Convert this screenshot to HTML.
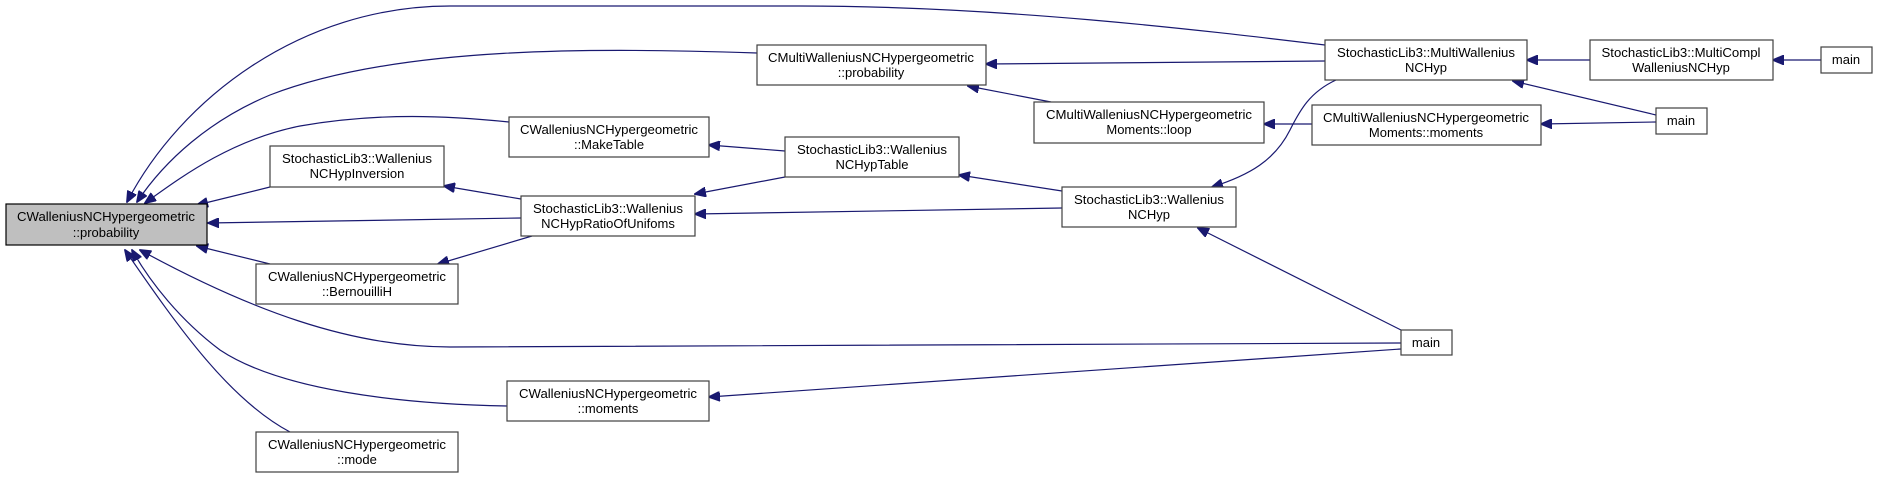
<!DOCTYPE html>
<html><head><meta charset="utf-8"><style>
html,body{margin:0;padding:0;background:#fff;}
svg{display:block;}
text{font-family:"Liberation Sans",sans-serif;font-size:13px;fill:#000;}
.b{fill:#fff;stroke:#404040;stroke-width:1.2;}
.e{fill:none;stroke:#191970;stroke-width:1.2;}
</style></head><body>
<svg width="1877" height="477" viewBox="0 0 1877 477" xmlns="http://www.w3.org/2000/svg">
<defs><marker id="a" markerWidth="12" markerHeight="10" refX="11" refY="5" orient="auto" markerUnits="userSpaceOnUse"><path d="M0,0 L12,5 L0,10 Z" fill="#191970" stroke="#191970"/></marker></defs>
<g class="e" marker-end="url(#a)">
<path d="M1325,45 C1200,30 1000,6 800,6 L450,6 C300,6 180,100 127,202"/>
<path d="M757,53 C600,48 400,45 270,95 C210,120 165,160 137,202"/>
<path d="M509,122 C450,116 380,112 300,126 C230,140 180,178 145,203"/>
<path d="M270,187 L197,205"/>
<path d="M521,218 L208,223"/>
<path d="M270,264 L197,246"/>
<path d="M1401,343 L450,347 C350,347 250,310 140,250"/>
<path d="M507,406 C400,404 280,390 220,350 C180,320 150,282 132,250"/>
<path d="M290,432 C230,400 180,330 125,250"/>
<path d="M521,199 L444,186"/>
<path d="M532,236 L438,264"/>
<path d="M785,151 L709,145"/>
<path d="M785,177 L695,194"/>
<path d="M1062,208 L695,214"/>
<path d="M1062,191 L959,175"/>
<path d="M1325,61 L986,64"/>
<path d="M1051,102 L968,86"/>
<path d="M1312,124 L1264,124"/>
<path d="M1336,80 C1310,92 1300,110 1290,130 C1275,160 1250,175 1212,187"/>
<path d="M1401,330 L1198,228"/>
<path d="M1590,60 L1527,60"/>
<path d="M1821,60 L1773,60"/>
<path d="M1656,115 L1513,81"/>
<path d="M1656,122 L1541,124"/>
<path d="M1401,349 L709,397"/>
</g>
<rect x="6" y="204" width="201" height="41" fill="#bfbfbf" stroke="#000" stroke-width="1.2"/>
<text x="106" y="221" text-anchor="middle" textLength="178" lengthAdjust="spacingAndGlyphs">CWalleniusNCHypergeometric</text>
<text x="106" y="237" text-anchor="middle">::probability</text>

<rect class="b" x="270" y="146" width="174" height="41"/>
<text x="357" y="163" text-anchor="middle" textLength="150" lengthAdjust="spacingAndGlyphs">StochasticLib3::Wallenius</text>
<text x="357" y="178" text-anchor="middle">NCHypInversion</text>

<rect class="b" x="509" y="117" width="200" height="40"/>
<text x="609" y="134" text-anchor="middle" textLength="178" lengthAdjust="spacingAndGlyphs">CWalleniusNCHypergeometric</text>
<text x="609" y="149" text-anchor="middle">::MakeTable</text>

<rect class="b" x="521" y="196" width="174" height="40"/>
<text x="608" y="213" text-anchor="middle" textLength="150" lengthAdjust="spacingAndGlyphs">StochasticLib3::Wallenius</text>
<text x="608" y="228" text-anchor="middle">NCHypRatioOfUnifoms</text>

<rect class="b" x="256" y="264" width="202" height="40"/>
<text x="357" y="281" text-anchor="middle" textLength="178" lengthAdjust="spacingAndGlyphs">CWalleniusNCHypergeometric</text>
<text x="357" y="296" text-anchor="middle">::BernouilliH</text>

<rect class="b" x="507" y="381" width="202" height="40"/>
<text x="608" y="398" text-anchor="middle" textLength="178" lengthAdjust="spacingAndGlyphs">CWalleniusNCHypergeometric</text>
<text x="608" y="413" text-anchor="middle">::moments</text>

<rect class="b" x="256" y="432" width="202" height="40"/>
<text x="357" y="449" text-anchor="middle" textLength="178" lengthAdjust="spacingAndGlyphs">CWalleniusNCHypergeometric</text>
<text x="357" y="464" text-anchor="middle">::mode</text>

<rect class="b" x="757" y="45" width="229" height="40"/>
<text x="871" y="62" text-anchor="middle" textLength="206" lengthAdjust="spacingAndGlyphs">CMultiWalleniusNCHypergeometric</text>
<text x="871" y="77" text-anchor="middle">::probability</text>

<rect class="b" x="785" y="137" width="174" height="40"/>
<text x="872" y="154" text-anchor="middle" textLength="150" lengthAdjust="spacingAndGlyphs">StochasticLib3::Wallenius</text>
<text x="872" y="169" text-anchor="middle">NCHypTable</text>

<rect class="b" x="1034" y="102" width="230" height="41"/>
<text x="1149" y="119" text-anchor="middle" textLength="206" lengthAdjust="spacingAndGlyphs">CMultiWalleniusNCHypergeometric</text>
<text x="1149" y="134" text-anchor="middle">Moments::loop</text>

<rect class="b" x="1062" y="187" width="174" height="40"/>
<text x="1149" y="204" text-anchor="middle" textLength="150" lengthAdjust="spacingAndGlyphs">StochasticLib3::Wallenius</text>
<text x="1149" y="219" text-anchor="middle">NCHyp</text>

<rect class="b" x="1325" y="40" width="202" height="40"/>
<text x="1426" y="57" text-anchor="middle" textLength="178" lengthAdjust="spacingAndGlyphs">StochasticLib3::MultiWallenius</text>
<text x="1426" y="72" text-anchor="middle">NCHyp</text>

<rect class="b" x="1312" y="105" width="229" height="40"/>
<text x="1426" y="122" text-anchor="middle" textLength="206" lengthAdjust="spacingAndGlyphs">CMultiWalleniusNCHypergeometric</text>
<text x="1426" y="137" text-anchor="middle">Moments::moments</text>

<rect class="b" x="1590" y="40" width="183" height="40"/>
<text x="1681" y="57" text-anchor="middle" textLength="159" lengthAdjust="spacingAndGlyphs">StochasticLib3::MultiCompl</text>
<text x="1681" y="72" text-anchor="middle">WalleniusNCHyp</text>

<rect class="b" x="1821" y="47" width="51" height="26"/>
<text x="1846" y="64" text-anchor="middle">main</text>

<rect class="b" x="1656" y="108" width="51" height="26"/>
<text x="1681" y="125" text-anchor="middle">main</text>

<rect class="b" x="1401" y="330" width="51" height="25"/>
<text x="1426" y="347" text-anchor="middle">main</text>
</svg>
</body></html>
